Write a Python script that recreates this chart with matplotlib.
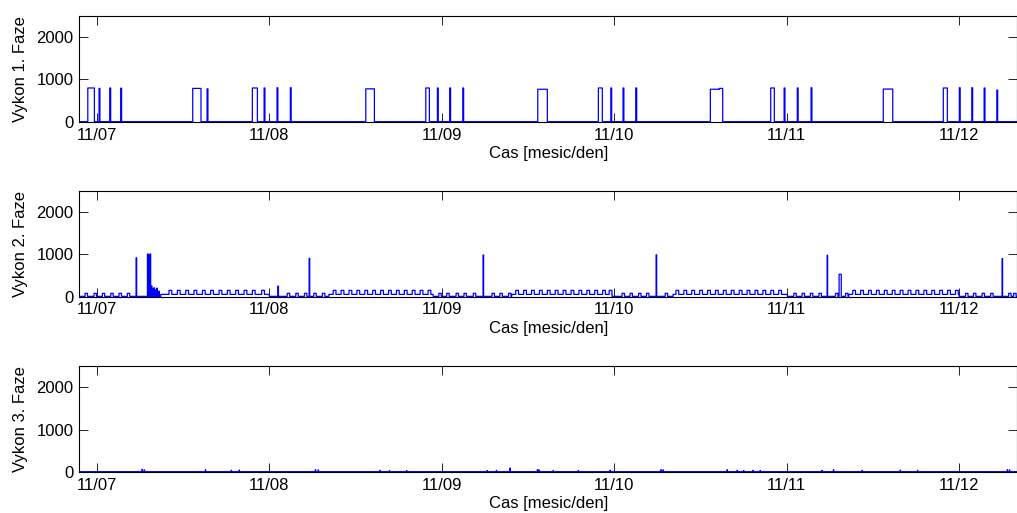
import numpy as np
import matplotlib
matplotlib.use('Agg')
import matplotlib.pyplot as plt
import matplotlib.dates as mdates
from datetime import datetime

plt.rcParams['font.family'] = ['Liberation Sans', 'DejaVu Sans']

# ---------------- data (hours relative to 11/07 00:00) ----------------
x_start_h = -2.42
x_end_h = 128.07
day_ticks = ["11/07", "11/08", "11/09", "11/10", "11/11", "11/12"]
y_labels = ["Vykon 1. Faze", "Vykon 2. Faze", "Vykon 3. Faze"]
x_label = "Cas [mesic/den]"

# Phase 1: wide on-periods and short pulses
p1_base = 8
p1_box_start = [-1.25, 13.36, 21.65, 37.43, 45.78, 61.37, 69.80, 85.39, 86.64, 93.79, 109.46, 117.81]
p1_box_end = [-0.33, 14.51, 22.35, 38.63, 46.28, 62.71, 70.36, 86.64, 87.11, 94.29, 110.77, 118.37]
p1_box_level = [800, 790, 800, 780, 800, 770, 800, 770, 790, 800, 775, 800]
p1_spike_t = [0.32, 1.81, 3.34, 15.35, 23.28, 25.09, 26.94, 47.40, 49.12, 50.93,
              71.53, 73.24, 75.01, 95.65, 97.49, 99.40, 120.04, 121.77, 123.48, 125.25]
p1_spike_v = [790, 800, 795, 780, 800, 805, 805, 800, 800, 800,
              800, 800, 800, 800, 800, 805, 805, 805, 800, 750]

# Phase 2: day (higher base) / night (low base) regimes, periodic small bumps, spikes
p2_low_base = 8
p2_high_base = 55
p2_high_start = [8.9, 32.3, 57.75, 80.2, 104.65]
p2_high_end = [24.0, 46.8, 71.7, 96.1, 120.0]
p2_low_bump_t = [-1.63, -0.38, 0.78, 1.95, 3.10, 4.26,
                 26.5, 27.7, 28.9, 30.2, 31.4,
                 47.6, 48.7, 50.0, 51.1, 52.4, 55.0, 56.1, 57.3,
                 73.1, 74.2, 75.4, 76.5, 79.1,
                 97.0, 98.15, 99.3, 100.5, 102.8, 104.2,
                 120.9, 122.0, 123.2, 124.4, 126.9, 127.6]
p2_high_bump_t = [10.06, 11.22, 12.39, 13.54, 14.70, 15.86, 17.02, 18.17, 19.34, 20.50, 21.65, 22.96,
                  32.9, 34.0, 35.1, 36.2, 37.3, 38.4, 39.5, 40.6, 41.7, 42.8, 43.9, 45.0, 46.1,
                  58.3, 59.4, 60.5, 61.6, 62.7, 63.8, 64.9, 66.0, 67.1, 68.2, 69.3, 70.4, 71.3,
                  80.6, 81.7, 82.8, 83.9, 85.0, 86.1, 87.2, 88.3, 89.4, 90.5, 91.6, 92.7, 93.8, 94.9,
                  105.2, 106.3, 107.4, 108.5, 109.6, 110.7, 111.8, 112.9, 114.0, 115.1, 116.2, 117.3, 118.4, 119.5]
p2_low_bump_v = 80
p2_high_bump_v = 150
p2_spike_t = [5.47, 7.05, 7.25, 7.42, 7.6, 7.8, 7.95, 8.15, 8.35, 8.6, 25.2, 29.55, 53.76, 77.84, 101.63, 125.98]
p2_spike_v = [920, 1010, 990, 1010, 250, 180, 210, 160, 200, 130, 250, 906, 985, 990, 980, 900]
p2_block = (103.3, 103.6, 530)

# Phase 3: almost zero with tiny blips
p3_base = 15
p3_blip_t = [6.3, 6.6, 15.1, 18.7, 19.8, 30.4, 30.8, 39.4, 40.7, 43.1, 54.3, 55.6, 57.5, 61.3,
             61.5, 63.5, 67.0, 71.4, 78.5, 78.8, 87.7, 89.1, 90.0, 91.3, 92.3, 100.9, 102.5,
             106.5, 111.8, 114.2, 126.7, 127.0]
p3_blip_v = [70, 55, 60, 45, 50, 60, 55, 45, 40, 40, 40, 45, 100, 60,
             55, 40, 40, 45, 60, 55, 60, 45, 40, 45, 40, 45, 60,
             45, 50, 45, 60, 55]

# ---------------- build step series ----------------
dt = 1.0 / 60.0
t = np.arange(x_start_h - 0.2, x_end_h + 0.2, dt)


def put(y, a, b, v):
    m = (t >= a) & (t < b)
    y[m] = v


y1 = np.full_like(t, p1_base, dtype=float)
for a, b, v in zip(p1_box_start, p1_box_end, p1_box_level):
    put(y1, a, b, v)
for a, v in zip(p1_spike_t, p1_spike_v):
    put(y1, a, a + 0.12, v)

y2 = np.full_like(t, p2_low_base, dtype=float)
for a, b in zip(p2_high_start, p2_high_end):
    put(y2, a, b, p2_high_base)
for a in p2_low_bump_t:
    put(y2, a, a + 0.33, p2_low_bump_v)
for a in p2_high_bump_t:
    put(y2, a, a + 0.38, p2_high_bump_v)
for a, v in zip(p2_spike_t, p2_spike_v):
    put(y2, a, a + 0.08, v)
put(y2, p2_block[0], p2_block[1], p2_block[2])

y3 = np.full_like(t, p3_base, dtype=float)
for a, v in zip(p3_blip_t, p3_blip_v):
    put(y3, a, a + 0.06, v)

base = mdates.date2num(datetime(2012, 11, 7))
tx = base + t / 24.0

# ---------------- figure ----------------
W, H = 1017, 513
fig = plt.figure(figsize=(W / 100, H / 100), dpi=100)
fig.patch.set_facecolor('white')

left = 79.3 / W
width = 1.0 - left
boxes = [(15.7, 122.0), (191.0, 296.7), (366.0, 472.3)]
series = [y1, y2, y3]

for (top_px, bot_px), y, lab in zip(boxes, series, y_labels):
    ax = fig.add_axes([left, 1 - bot_px / H, width, (bot_px - top_px) / H])
    ax.plot(tx, y, color=(0, 0, 1), lw=0.9, drawstyle='steps-post', zorder=3)
    ax.set_xlim(base + x_start_h / 24.0, base + x_end_h / 24.0)
    ax.set_ylim(0, 2500)
    ax.set_yticks([0, 1000, 2000])
    ax.set_yticklabels(["0", "1000", "2000"])
    ticks = [base + i for i in range(len(day_ticks))]
    ax.set_xticks(ticks)
    ax.set_xticklabels(day_ticks)
    ax.tick_params(direction='in', top=True, right=True, length=6.7, width=0.6,
                   labelsize=12, pad=4, colors='black')
    for s in ax.spines.values():
        s.set_linewidth(0.8)
    ax.set_ylabel(lab, fontsize=12, labelpad=6)
    ax.set_xlabel(x_label, fontsize=12, labelpad=2.5)

fig.savefig('out.png', dpi=100, facecolor='white')
